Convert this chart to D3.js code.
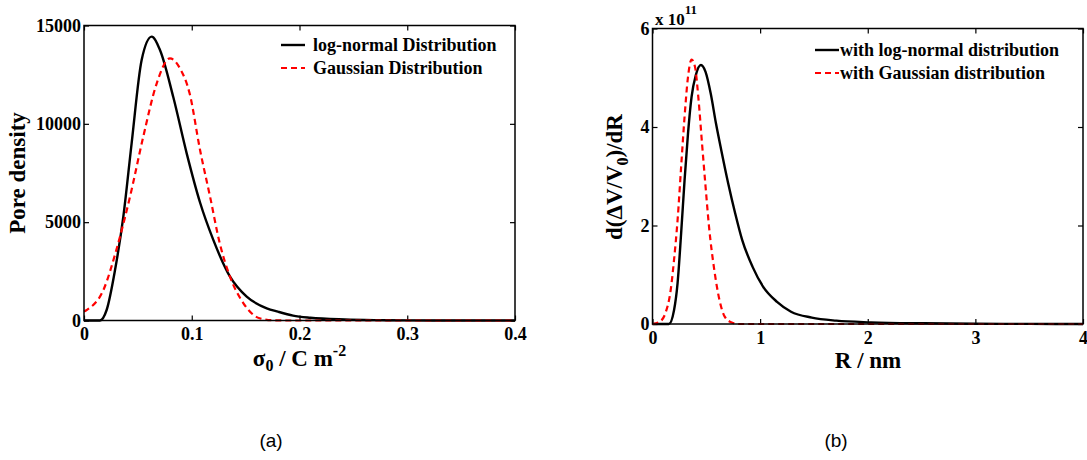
<!DOCTYPE html>
<html><head><meta charset="utf-8">
<script src="https://cdn.jsdelivr.net/npm/d3@7"></script>
<style>
body{margin:0;background:#fff}
svg{display:block}
text, tspan{font-family:"Liberation Serif","Times New Roman",serif;font-weight:bold;fill:#000}
</style>
</head><body><svg id="c" width="1087" height="460"></svg>
<script>
// ---------- Panel (a): pore density vs surface charge density ----------
const aLogX  = [0, 0.0148, 0.021, 0.0288, 0.0365, 0.0442, 0.0535, 0.0628, 0.0705, 0.0829, 0.0953, 0.1077, 0.12, 0.1355, 0.151, 0.1696, 0.18, 0.194, 0.21, 0.242, 0.274, 0.3, 0.35, 0.4];
const aLogY  = [0, 0, 534, 2568, 5278, 9010, 13247, 14432, 13755, 11350, 8500, 6000, 4100, 2227, 1210, 620, 447, 250, 140, 50, 17, 5, 1, 0];
const aGauX  = [0, 0.0025, 0.018, 0.030, 0.0427, 0.055, 0.0675, 0.0798, 0.089, 0.098, 0.1077, 0.117, 0.126, 0.1355, 0.148, 0.163, 0.176, 0.19, 0.25, 0.3, 0.35, 0.4];
const aGauY  = [450, 534, 1551, 3585, 6296, 9347, 12062, 13333, 12825, 11553, 8670, 6296, 3926, 2227, 875, 112, 10, 0, 0, 0, 0, 0];
const aXTicks = [0, 0.1, 0.2, 0.3, 0.4];
const aYTicks = [0, 5000, 10000, 15000];
const aLegend = ["log-normal Distribution", "Gaussian Distribution"];

// ---------- Panel (b): d(ΔV/V0)/dR vs R (values in units of 1e11) ----------
const bLogX = [0, 0.152, 0.2, 0.233, 0.266, 0.298, 0.33, 0.363, 0.402, 0.45, 0.493, 0.541, 0.59, 0.639, 0.703, 0.768, 0.833, 0.93, 1.027, 1.157, 1.287, 1.48, 1.708, 2.03, 2.52, 3, 3.5, 4];
const bLogY = [0, 0, 0.28, 0.83, 1.84, 2.92, 3.87, 4.61, 5.05, 5.26, 5.12, 4.68, 4.07, 3.53, 2.86, 2.25, 1.71, 1.16, 0.76, 0.45, 0.25, 0.13, 0.068, 0.034, 0.014, 0.005, 0.002, 0.001];
const bGauX = [0, 0.023, 0.071, 0.12, 0.169, 0.2, 0.233, 0.266, 0.298, 0.33, 0.363, 0.395, 0.428, 0.46, 0.493, 0.525, 0.574, 0.622, 0.671, 0.736, 0.8, 1, 2, 3, 4];
const bGauY = [0, 0.01, 0.05, 0.22, 0.69, 1.3, 2.11, 3.19, 4.21, 5.02, 5.37, 5.22, 4.55, 3.67, 2.79, 1.98, 1.10, 0.49, 0.15, 0.03, 0, 0, 0, 0, 0];
const bXTicks = [0, 1, 2, 3, 4];
const bYTicks = [0, 2, 4, 6];
const bLegend = ["with log-normal distribution", "with Gaussian distribution"];
const captions = ["(a)", "(b)"];

const svg = d3.select("#c");
const RED = "#ff0000";
const SERIF = '"Liberation Serif","Times New Roman",serif';

function panel(cfg) {
  const x = d3.scaleLinear().domain(cfg.xd).range([cfg.x0, cfg.x1]);
  const y = d3.scaleLinear().domain(cfg.yd).range([cfg.y1, cfg.y0]);
  const g = svg.append("g");
  const tk = 5;
  const ax = (a, pos, fmt, show) => {
    const sel = g.append("g").attr("transform", pos)
      .call(a.tickSize(-tk).tickSizeOuter(0).tickPadding(show ? cfg.pad : 0).tickFormat(show ? fmt : () => ""));
    sel.attr("font-family", SERIF).attr("font-size", 18).attr("font-weight", "bold");
    sel.select(".domain").remove();
    sel.selectAll("line").attr("stroke", "#000").attr("stroke-width", 1.2);
    sel.selectAll("text").style("font-size", "18px").style("font-family", SERIF).style("font-weight", "bold").style("fill", "#000");
    return sel;
  };
  const xb = ax(d3.axisBottom(x).tickValues(cfg.xt), `translate(0,${cfg.y1})`, cfg.xf, true);
  xb.selectAll("text").attr("y", 7);
  ax(d3.axisTop(x).tickValues(cfg.xt), `translate(0,${cfg.y0})`, cfg.xf, false);
  const yl = ax(d3.axisLeft(y).tickValues(cfg.yt), `translate(${cfg.x0},0)`, cfg.yf, true);
  yl.selectAll("text").attr("x", -3);
  ax(d3.axisRight(y).tickValues(cfg.yt), `translate(${cfg.x1},0)`, cfg.yf, false);

  const line = d3.line().x(d => x(d[0])).y(d => y(d[1])).curve(d3.curveMonotoneX);
  const gauss = d3.zip(cfg.gx, cfg.gy);
  const logn = d3.zip(cfg.lx, cfg.ly);
  g.append("path").attr("d", line(logn)).attr("fill", "none").attr("stroke", "#000").attr("stroke-width", 2.4);
  g.append("path").attr("d", line(gauss)).attr("fill", "none").attr("stroke", RED).attr("stroke-width", 2.2).attr("stroke-dasharray", "6,4");

  g.append("rect").attr("x", cfg.x0).attr("y", cfg.y0).attr("width", cfg.x1 - cfg.x0).attr("height", cfg.y1 - cfg.y0)
    .attr("fill", "none").attr("stroke", "#000").attr("stroke-width", 1.5);

  // legend
  const L = cfg.leg;
  g.append("line").attr("x1", L.lx0).attr("x2", L.lx1).attr("y1", L.y0).attr("y2", L.y0).attr("stroke", "#000").attr("stroke-width", 2.4);
  g.append("line").attr("x1", L.lx0).attr("x2", L.lx1).attr("y1", L.y0 + L.dy).attr("y2", L.y0 + L.dy).attr("stroke", RED).attr("stroke-width", 2.2).attr("stroke-dasharray", "6,4");
  cfg.legText.forEach((t, i) => {
    g.append("text").attr("x", L.tx).attr("y", L.y0 + i * L.dy + 6).style("font-size", "18px").text(t);
  });
  return g;
}

// Panel (a)
panel({
  xd: [0, 0.4], yd: [0, 15000], x0: 84, x1: 515, y0: 25.5, y1: 320.5, pad: 7,
  xt: aXTicks, yt: aYTicks, xf: d => d === 0 ? "0" : d3.format(".1f")(d), yf: d => String(d),
  lx: aLogX, ly: aLogY, gx: aGauX, gy: aGauY,
  leg: {lx0: 281, lx1: 305, tx: 313, y0: 45, dy: 23}, legText: aLegend
});
// Panel (b)
panel({
  xd: [0, 4], yd: [0, 6], x0: 652.5, x1: 1083, y0: 28.5, y1: 324, pad: 7,
  xt: bXTicks, yt: bYTicks, xf: d => String(d), yf: d => String(d),
  lx: bLogX, ly: bLogY, gx: bGauX, gy: bGauY,
  leg: {lx0: 815, lx1: 839, tx: 840, y0: 50, dy: 23}, legText: bLegend
});

// axis titles
svg.append("text").attr("transform", "translate(25,173) rotate(-90)").attr("text-anchor", "middle")
  .style("font-size", "23px").text("Pore density");

const xa = svg.append("text").attr("x", 299.5).attr("y", 366).attr("text-anchor", "middle").style("font-size", "23px");
xa.append("tspan").text("σ");
xa.append("tspan").attr("dy", 5).style("font-size", "16px").text("0");
xa.append("tspan").attr("dy", -5).text(" / C m");
xa.append("tspan").attr("dy", -10).style("font-size", "16px").text("-2");

svg.append("text").attr("x", 868).attr("y", 368).attr("text-anchor", "middle").style("font-size", "23px").text("R / nm");

const ya = svg.append("text").attr("transform", "translate(622,177) rotate(-90)").attr("text-anchor", "middle").style("font-size", "23px");
ya.append("tspan").text("d(ΔV/V");
ya.append("tspan").attr("dy", 6).style("font-size", "16px").text("0");
ya.append("tspan").attr("dy", -6).text(")/dR");

// exponent
const ex = svg.append("text").attr("x", 655).attr("y", 25).style("font-size", "17px");
ex.append("tspan").text("x 10");
ex.append("tspan").attr("dy", -11).style("font-size", "13px").style("fill", "#000").text("11");

// captions
svg.selectAll("text.cap").data(captions).enter().append("text").attr("class", "cap")
  .attr("x", (d, i) => [271, 836][i]).attr("y", 447).attr("text-anchor", "middle")
  .style("font-family", '"Liberation Sans", Arial, sans-serif').style("font-weight", "normal").style("font-size", "19px")
  .text(d => d);
</script>
</body></html>
